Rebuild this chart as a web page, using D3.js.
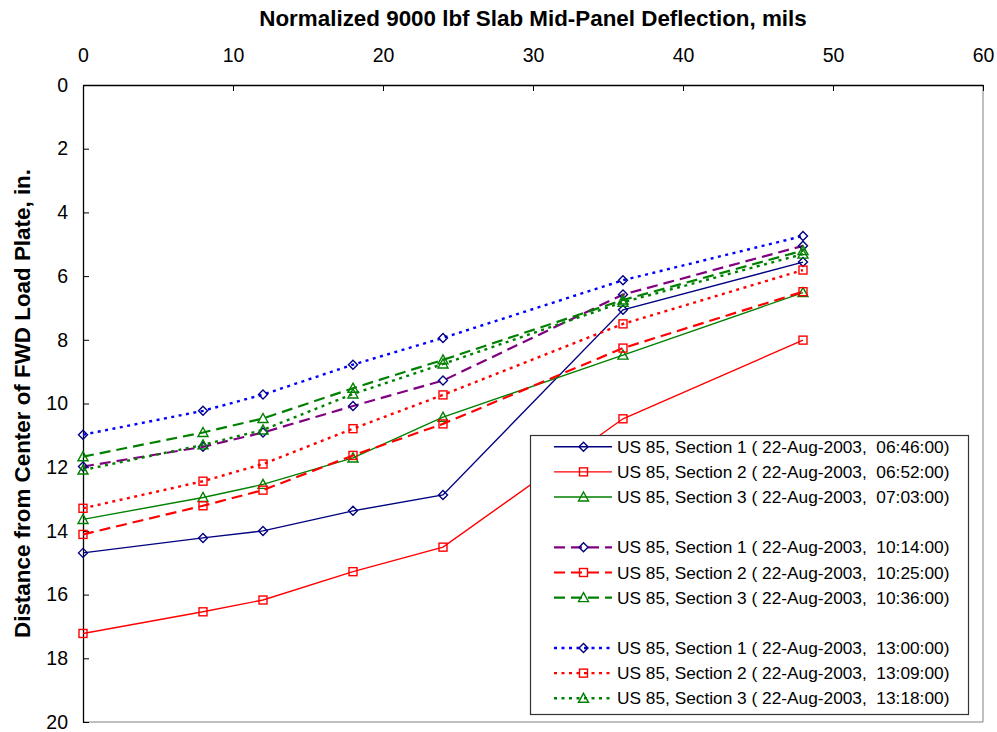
<!DOCTYPE html>
<html>
<head>
<meta charset="utf-8">
<script src="https://cdn.jsdelivr.net/npm/d3@7/dist/d3.min.js"></script>
<style>
  html, body { margin: 0; padding: 0; background: #fff; }
  svg { display: block; font-family: "Liberation Sans", Arial, sans-serif; }
  .legtext { white-space: pre; }
</style>
</head>
<body>
<svg id="chart" width="997" height="732"></svg>
<script>
// ---- data ----
const positions = [0, 8, 12, 18, 24, 36, 48];
const xTicks = [0, 10, 20, 30, 40, 50, 60];
const yTicks = [0, 2, 4, 6, 8, 10, 12, 14, 16, 18, 20];

const sec1_0646 = [14.69, 14.22, 14.00, 13.37, 12.87, 7.06, 5.56];
const sec2_0652 = [17.22, 16.54, 16.17, 15.28, 14.51, 10.48, 8.01];
const sec3_0703 = [13.64, 12.95, 12.54, 11.71, 10.43, 8.48, 6.52];
const sec1_1014 = [11.98, 11.36, 10.91, 10.08, 9.28, 6.58, 5.05];
const sec2_1025 = [14.11, 13.21, 12.72, 11.63, 10.64, 8.26, 6.49];
const sec3_1036 = [11.67, 10.91, 10.47, 9.52, 8.63, 6.75, 5.20];
const sec1_1300 = [10.98, 10.23, 9.72, 8.78, 7.94, 6.13, 4.74];
const sec2_1309 = [13.29, 12.44, 11.90, 10.79, 9.73, 7.50, 5.81];
const sec3_1318 = [12.09, 11.30, 10.83, 9.70, 8.76, 6.82, 5.31];

const seriesNames = [
  "US 85, Section 1 ( 22-Aug-2003,  06:46:00)",
  "US 85, Section 2 ( 22-Aug-2003,  06:52:00)",
  "US 85, Section 3 ( 22-Aug-2003,  07:03:00)",
  "US 85, Section 1 ( 22-Aug-2003,  10:14:00)",
  "US 85, Section 2 ( 22-Aug-2003,  10:25:00)",
  "US 85, Section 3 ( 22-Aug-2003,  10:36:00)",
  "US 85, Section 1 ( 22-Aug-2003,  13:00:00)",
  "US 85, Section 2 ( 22-Aug-2003,  13:09:00)",
  "US 85, Section 3 ( 22-Aug-2003,  13:18:00)"
];
const seriesValues = [sec1_0646, sec2_0652, sec3_0703, sec1_1014, sec2_1025, sec3_1036, sec1_1300, sec2_1309, sec3_1318];
const lineColors = ["#000080", "#FF0000", "#008000", "#800080", "#FF0000", "#008000", "#0000FF", "#FF0000", "#008000"];
const markerColors = ["#000080", "#FF0000", "#008000", "#000080", "#FF0000", "#008000", "#000080", "#FF0000", "#008000"];
const markerShapes = ["diamond", "square", "triangle", "diamond", "square", "triangle", "diamond", "square", "triangle"];
const lineStyles = ["solid", "solid", "solid", "dash", "dash", "dash", "dot", "dot", "dot"];
const legendRows = [0, 1, 2, 4, 5, 6, 8, 9, 10];

const xTitle = "Normalized 9000 lbf Slab Mid-Panel Deflection, mils";
const yTitle = "Distance from Center of FWD Load Plate, in.";

// ---- layout ----
const L = 83, R = 983, T = 85, B = 722;
const svg = d3.select("#chart");
const x = d3.scaleLinear().domain([0, 60]).range([L, R]);
const y = d3.scaleLinear().domain([0, 20]).range([T, B]);

// plot border (right and bottom, gray)
svg.append("line").attr("x1", R).attr("x2", R).attr("y1", T).attr("y2", B)
  .attr("stroke", "#808080").attr("stroke-width", 1);
svg.append("line").attr("x1", L).attr("x2", R).attr("y1", B).attr("y2", B)
  .attr("stroke", "#808080").attr("stroke-width", 1);

// axes
const xAxis = d3.axisTop(x).tickValues(xTicks).tickSizeInner(-6).tickSizeOuter(0).tickPadding(23);
const gx = svg.append("g").attr("transform", `translate(0,${T})`).call(xAxis);
const yAxis = d3.axisLeft(y).tickValues(yTicks).tickSizeInner(-6).tickSizeOuter(0).tickPadding(15);
const gy = svg.append("g").attr("transform", `translate(${L},0)`).call(yAxis);
[gx, gy].forEach(g => {
  g.select(".domain").attr("stroke", "#000").attr("stroke-width", 1.3);
  g.selectAll(".tick line").attr("stroke", "#000").attr("stroke-width", 1);
  g.selectAll(".tick text").attr("fill", "#000")
    .style("font-family", '"Liberation Sans", Arial, sans-serif').style("font-size", "19.5px");
});

// titles
svg.append("text").attr("x", (L + R) / 2).attr("y", 26).attr("text-anchor", "middle")
  .style("font-size", "22.4px").style("font-weight", "bold").text(xTitle);
svg.append("text").attr("transform", `translate(30,${(167 + 640) / 2}) rotate(-90)`)
  .attr("text-anchor", "middle")
  .style("font-size", "22.4px").style("font-weight", "bold").text(yTitle);

// helpers
function dashFor(style) {
  if (style === "dash") return "11,6";
  if (style === "dot") return "3,4.5";
  return null;
}
function widthFor(style) {
  if (style === "solid") return 1.4;
  if (style === "dash") return 2.2;
  return 2.4;
}
function drawMarker(g, shape, cx, cy, color) {
  if (shape === "diamond") {
    const s = 4.5;
    g.append("path").attr("d", `M${cx},${cy - s}L${cx + s},${cy}L${cx},${cy + s}L${cx - s},${cy}Z`)
      .attr("fill", "none").attr("stroke", color).attr("stroke-width", 1.4);
  } else if (shape === "square") {
    const s = 4;
    g.append("rect").attr("x", cx - s).attr("y", cy - s).attr("width", 2 * s).attr("height", 2 * s)
      .attr("fill", "none").attr("stroke", color).attr("stroke-width", 1.4);
  } else {
    const s = 5;
    g.append("path").attr("d", `M${cx},${cy - s}L${cx + s},${cy + s * 0.8}L${cx - s},${cy + s * 0.8}Z`)
      .attr("fill", "none").attr("stroke", color).attr("stroke-width", 1.4);
  }
}

// series
const line = d3.line().x(d => x(d[0])).y(d => y(d[1]));
seriesValues.forEach((vals, i) => {
  const pts = positions.map((p, j) => [p, vals[j]]);
  const g = svg.append("g");
  g.append("path").datum(pts).attr("d", line)
    .attr("fill", "none").attr("stroke", lineColors[i])
    .attr("stroke-width", widthFor(lineStyles[i]))
    .attr("stroke-dasharray", dashFor(lineStyles[i]));
  pts.forEach(p => drawMarker(g, markerShapes[i], x(p[0]), y(p[1]), markerColors[i]));
});

// legend
const lg = svg.append("g");
lg.append("rect").attr("x", 530.5).attr("y", 435.5).attr("width", 438).attr("height", 279)
  .attr("fill", "#fff").attr("stroke", "#333").attr("stroke-width", 1.2);
seriesNames.forEach((name, i) => {
  const cy = 446.7 + legendRows[i] * 25.16;
  lg.append("line").attr("x1", 554).attr("x2", 612).attr("y1", cy).attr("y2", cy)
    .attr("stroke", lineColors[i]).attr("stroke-width", widthFor(lineStyles[i]))
    .attr("stroke-dasharray", dashFor(lineStyles[i]));
  const mg = lg.append("g");
  drawMarker(mg, markerShapes[i], 583.5, cy, markerColors[i]);
  lg.append("text").attr("class", "legtext").attr("x", 617).attr("y", cy + 6)
    .style("font-size", "17.3px").attr("fill", "#000").text(name);
});
</script>
</body>
</html>
